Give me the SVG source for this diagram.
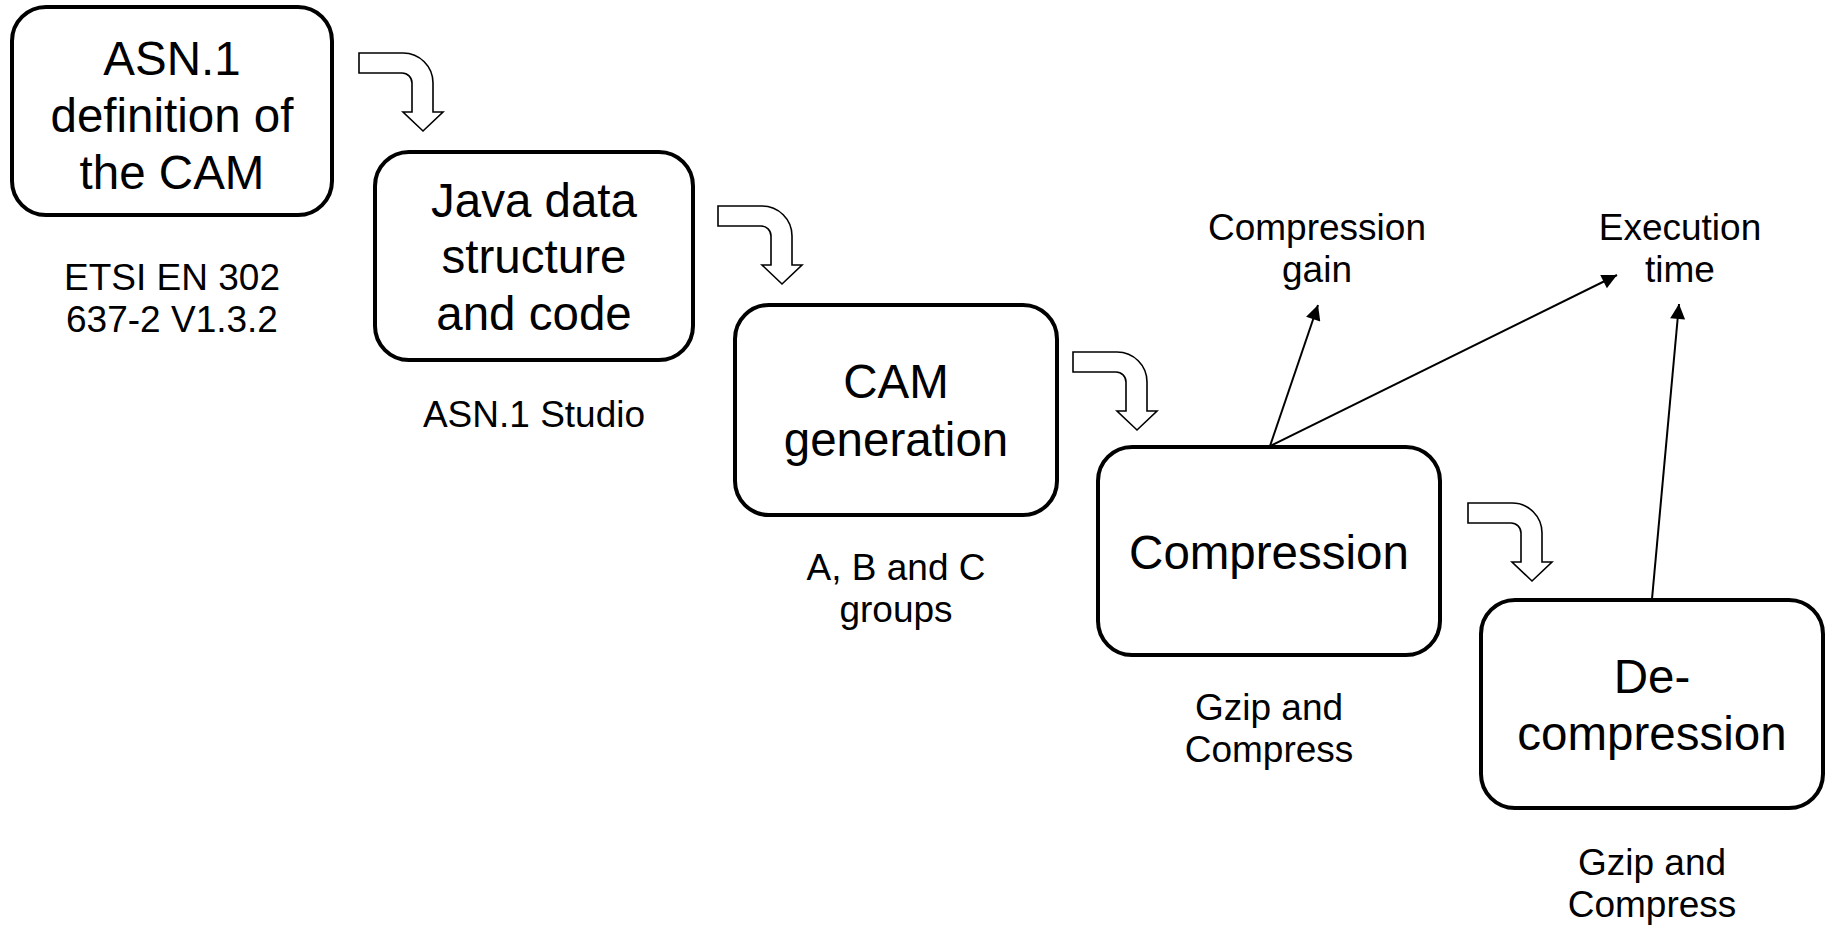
<svg xmlns="http://www.w3.org/2000/svg" width="1829" height="927" viewBox="0 0 1829 927">
  <style>
    .box { fill: #ffffff; stroke: #000000; stroke-width: 4; }
    .big { font-family: "Liberation Sans", Arial, sans-serif; font-size: 47.5px; fill: #000000; text-anchor: middle; }
    .small { font-family: "Liberation Sans", Arial, sans-serif; font-size: 37px; fill: #000000; text-anchor: middle; }
    .bend { fill: #ffffff; stroke: #000000; stroke-width: 1.6; stroke-linejoin: miter; }
    .link { fill: none; stroke: #000000; stroke-width: 2; }
  </style>
  <defs>
    <marker id="tip" viewBox="0 0 10 10" refX="10" refY="5" markerWidth="8" markerHeight="7.5" markerUnits="strokeWidth" orient="auto">
      <path d="M0,0 L10,5 L0,10 Z" fill="#000000"/>
    </marker>
    <!-- bent block arrow: horizontal arm turning down into an arrowhead -->
    <path id="bentArrow" class="bend" d="M0,0 H44 A30,30 0 0 1 74,30 V59 H84 L64,78 L44,59 H53 V30 A10,10 0 0 0 43,20 H0 Z"/>
  </defs>

  <rect width="1829" height="927" fill="#ffffff"/>

  <g id="asn1-definition">
    <rect class="box" x="12" y="7" width="320" height="208" rx="34" ry="34"/>
    <text class="big" x="172" y="75">ASN.1</text>
    <text class="big" x="172" y="132">definition of</text>
    <text class="big" x="172" y="189">the CAM</text>
    <text class="small" x="172" y="290">ETSI EN 302</text>
    <text class="small" x="172" y="332">637-2 V1.3.2</text>
  </g>

  <g id="java-structure">
    <rect class="box" x="375" y="152" width="318" height="208" rx="34" ry="34"/>
    <text class="big" x="534" y="217">Java data</text>
    <text class="big" x="534" y="273">structure</text>
    <text class="big" x="534" y="330">and code</text>
    <text class="small" x="534" y="427">ASN.1 Studio</text>
  </g>

  <g id="cam-generation">
    <rect class="box" x="735" y="305" width="322" height="210" rx="34" ry="34"/>
    <text class="big" x="896" y="398">CAM</text>
    <text class="big" x="896" y="456">generation</text>
    <text class="small" x="896" y="580">A, B and C</text>
    <text class="small" x="896" y="622">groups</text>
  </g>

  <g id="compression">
    <rect class="box" x="1098" y="447" width="342" height="208" rx="34" ry="34"/>
    <text class="big" x="1269" y="569">Compression</text>
    <text class="small" x="1269" y="720">Gzip and</text>
    <text class="small" x="1269" y="762">Compress</text>
  </g>

  <g id="decompression">
    <rect class="box" x="1481" y="600" width="342" height="208" rx="34" ry="34"/>
    <text class="big" x="1652" y="693">De-</text>
    <text class="big" x="1652" y="750">compression</text>
    <text class="small" x="1652" y="875">Gzip and</text>
    <text class="small" x="1652" y="917">Compress</text>
  </g>

  <g id="compression-gain">
    <text class="small" x="1317" y="240">Compression</text>
    <text class="small" x="1317" y="282">gain</text>
  </g>

  <g id="execution-time">
    <text class="small" x="1680" y="240">Execution</text>
    <text class="small" x="1680" y="282">time</text>
  </g>

  <g id="connectors">
    <use href="#bentArrow" x="359" y="53"/>
    <use href="#bentArrow" x="718" y="206"/>
    <use href="#bentArrow" x="1073" y="352"/>
    <use href="#bentArrow" x="1468" y="503"/>
    <line class="link" x1="1270" y1="446" x2="1318" y2="305" marker-end="url(#tip)"/>
    <line class="link" x1="1270" y1="446" x2="1617" y2="275" marker-end="url(#tip)"/>
    <line class="link" x1="1652" y1="599" x2="1679" y2="304" marker-end="url(#tip)"/>
  </g>
</svg>
